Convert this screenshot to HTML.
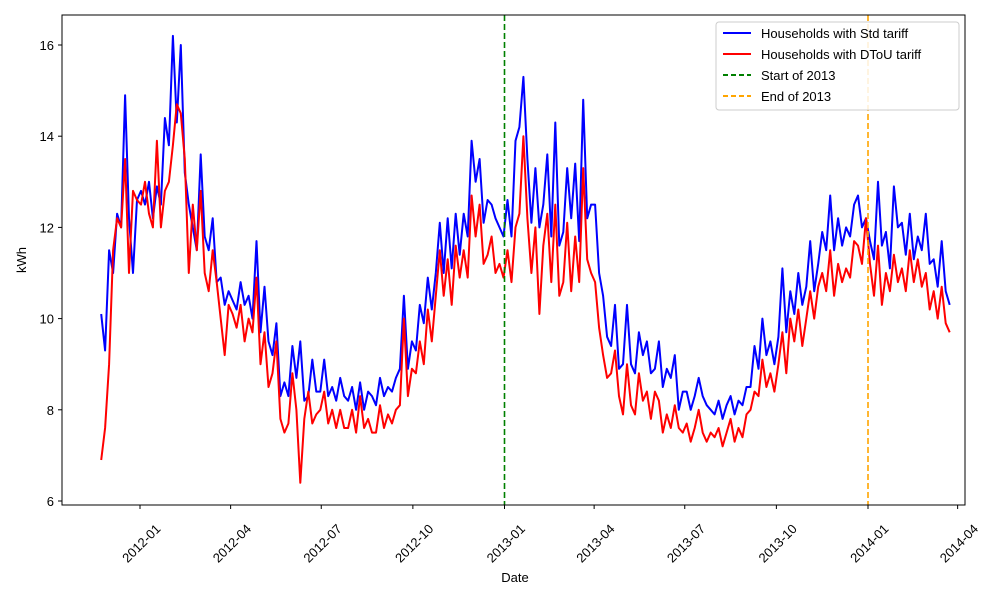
<!DOCTYPE html>
<html><head><meta charset="utf-8"><style>
body{margin:0;background:#fff;}
svg{display:block;font-family:"Liberation Sans","DejaVu Sans",sans-serif;}
</style></head><body>
<svg id="chart" width="1000" height="600">
<rect width="1000" height="600" fill="#fff"/>
<g id="plot"></g>
<rect x="62" y="15" width="903" height="490" fill="none" stroke="#000" stroke-width="1"/>
<g id="xticks"></g>
<g id="yticks"></g>
<text x="515" y="582" font-size="13" text-anchor="middle">Date</text>
<text x="26" y="260" font-size="13" text-anchor="middle" transform="rotate(-90 26 260)">kWh</text>
<g>
<rect x="716" y="22" width="243" height="88" rx="3" fill="#fff" fill-opacity="0.85" stroke="#ccc"/>
<g><line x1="723" y1="33" x2="751" y2="33" stroke="blue" stroke-width="2"/><text x="761" y="38" font-size="13">Households with Std tariff</text></g>
<g><line x1="723" y1="54" x2="751" y2="54" stroke="red" stroke-width="2"/><text x="761" y="59" font-size="13">Households with DToU tariff</text></g>
<g><line x1="723" y1="75" x2="751" y2="75" stroke="green" stroke-width="2" stroke-dasharray="5,3"/><text x="761" y="80" font-size="13">Start of 2013</text></g>
<g><line x1="723" y1="96" x2="751" y2="96" stroke="orange" stroke-width="2" stroke-dasharray="5,3"/><text x="761" y="101" font-size="13">End of 2013</text></g>
</g>
</svg>
<script>
const startDate = "2011-11-23";
const stepDays = 4;
const stdValues = [10.1,9.3,11.5,11.0,12.3,12.0,14.9,12.2,11.0,12.6,12.8,12.5,13.0,12.2,12.9,12.5,14.4,13.8,16.2,14.3,16.0,13.2,12.5,12.0,11.5,13.6,11.8,11.5,12.2,10.8,10.9,10.3,10.6,10.4,10.2,10.8,10.3,10.5,10.0,11.7,9.7,10.7,9.5,9.2,9.9,8.3,8.6,8.3,9.4,8.7,9.5,8.2,8.3,9.1,8.4,8.4,9.1,8.3,8.5,8.2,8.7,8.3,8.2,8.5,8.0,8.6,8.0,8.4,8.3,8.1,8.7,8.3,8.5,8.4,8.7,8.9,10.5,8.9,9.5,9.3,10.3,9.9,10.9,10.2,11.0,12.1,11.0,12.2,11.1,12.3,11.4,12.3,11.8,13.9,13.0,13.5,12.1,12.6,12.5,12.2,12.0,11.8,12.6,11.8,13.9,14.2,15.3,13.5,12.1,13.3,12.0,12.5,13.6,11.8,14.3,11.6,11.9,13.3,12.2,13.4,11.7,14.8,12.2,12.5,12.5,11.0,10.5,9.6,9.4,10.3,8.9,9.0,10.3,9.0,8.8,9.7,9.2,9.5,8.8,8.9,9.5,8.5,8.9,8.7,9.2,8.0,8.4,8.4,8.0,8.3,8.7,8.3,8.1,8.0,7.9,8.2,7.8,8.1,8.3,7.9,8.2,8.1,8.5,8.5,9.4,8.9,10.0,9.2,9.5,9.0,9.6,11.1,9.7,10.6,10.1,11.0,10.3,10.7,11.7,10.6,11.2,11.9,11.5,12.7,11.5,12.2,11.6,12.0,11.8,12.5,12.7,12.0,12.2,11.7,11.3,13.0,11.6,11.9,11.1,12.9,12.0,12.1,11.4,12.3,11.3,11.8,11.5,12.3,11.2,11.3,10.7,11.7,10.6,10.3];
const dtouValues = [6.9,7.6,9.0,11.5,12.2,12.0,13.5,11.0,12.8,12.6,12.5,13.0,12.3,12.0,13.9,12.0,12.8,13.0,13.8,14.7,14.5,13.5,11.0,12.5,11.5,12.8,11.0,10.6,11.5,10.8,10.0,9.2,10.3,10.1,9.8,10.3,9.5,10.0,9.7,10.9,9.0,9.7,8.5,8.8,9.5,7.8,7.5,7.7,8.8,8.0,6.4,7.8,8.4,7.7,7.9,8.0,8.4,7.7,8.0,7.6,8.0,7.6,7.6,8.0,7.5,8.3,7.6,7.8,7.5,7.5,8.1,7.6,7.9,7.7,8.0,8.1,10.0,8.3,8.9,8.8,9.5,9.0,10.2,9.5,10.5,11.5,10.5,11.3,10.3,11.6,10.9,11.5,10.9,12.7,11.8,12.5,11.2,11.4,11.8,11.0,11.2,10.9,11.5,10.8,12.0,12.3,14.0,12.2,11.0,12.0,10.1,11.6,12.3,10.8,12.5,10.5,10.8,12.1,10.6,11.8,10.8,13.3,11.3,11.0,10.8,9.8,9.2,8.7,8.8,9.3,8.3,7.9,9.0,8.1,7.9,8.8,8.2,8.4,7.8,8.4,8.2,7.5,7.9,7.6,8.1,7.6,7.5,7.7,7.3,7.6,8.0,7.5,7.3,7.5,7.4,7.6,7.2,7.5,7.8,7.3,7.6,7.4,7.9,8.0,8.4,8.3,9.1,8.5,8.8,8.4,9.0,9.7,8.8,10.0,9.5,10.2,9.4,10.0,10.6,10.0,10.7,11.0,10.6,11.5,10.5,11.2,10.8,11.1,10.9,11.7,11.6,11.2,12.2,11.2,10.5,11.6,10.3,11.0,10.6,11.4,10.8,11.1,10.6,11.5,10.8,11.3,10.7,11.0,10.2,10.6,10.0,10.7,9.9,9.7];
const xTickLabels = ["2012-01","2012-04","2012-07","2012-10","2013-01","2013-04","2013-07","2013-10","2014-01","2014-04"];
const yTickLabels = [6,8,10,12,14,16];
const markerDates = ["2013-01-01","2014-01-01"];

const NS="http://www.w3.org/2000/svg";
const origin=Date.UTC(2012,0,1);
function dayOf(s){const p=s.split("-").map(Number);return (Date.UTC(p[0],p[1]-1,p[2]||1)-origin)/86400000;}
function xScale(d){return 140+d*0.9959;}
function yScale(v){return 501-(v-6)*45.6;}
function mk(tag,attrs,parent){const e=document.createElementNS(NS,tag);for(const k in attrs)e.setAttribute(k,attrs[k]);parent.appendChild(e);return e;}
const plot=document.getElementById("plot");
const d0=dayOf(startDate);
function drawSeries(vals,color,name){
  const pts=vals.map((v,i)=>xScale(d0+i*stepDays).toFixed(1)+","+yScale(v).toFixed(1)).join(" ");
  const pl=mk("polyline",{points:pts,fill:"none",stroke:color,"stroke-width":2,"stroke-linejoin":"round"},plot);
  
  
}
drawSeries(stdValues,"blue","std-tariff-line");
drawSeries(dtouValues,"red","dtou-tariff-line");
const mColors=["green","orange"];
markerDates.forEach((m,i)=>{
  const x=xScale(dayOf(m));
  const l=mk("line",{x1:x,x2:x,y1:15,y2:505,stroke:mColors[i],"stroke-width":1.6,"stroke-dasharray":"6,3"},plot);
  
  
});
const xt=document.getElementById("xticks");
xTickLabels.forEach(s=>{
  const x=xScale(dayOf(s));
  const t=mk("line",{x1:x,x2:x,y1:505,y2:509,stroke:"#000"},xt);
  
  
  const cx=x+1, cy=543;
  const tx=mk("text",{x:cx,y:cy+5,"font-size":13,"text-anchor":"middle",transform:"rotate(-45 "+cx+" "+cy+")"},xt);
  tx.textContent=s;
  
  
});
const yt=document.getElementById("yticks");
yTickLabels.forEach(v=>{
  const y=yScale(v);
  const t=mk("line",{x1:58,x2:62,y1:y,y2:y,stroke:"#000"},yt);
  
  
  const tx=mk("text",{x:54,y:y+5,"font-size":13,"text-anchor":"end"},yt);
  tx.textContent=v;
  
  
});
</script>
</body></html>
